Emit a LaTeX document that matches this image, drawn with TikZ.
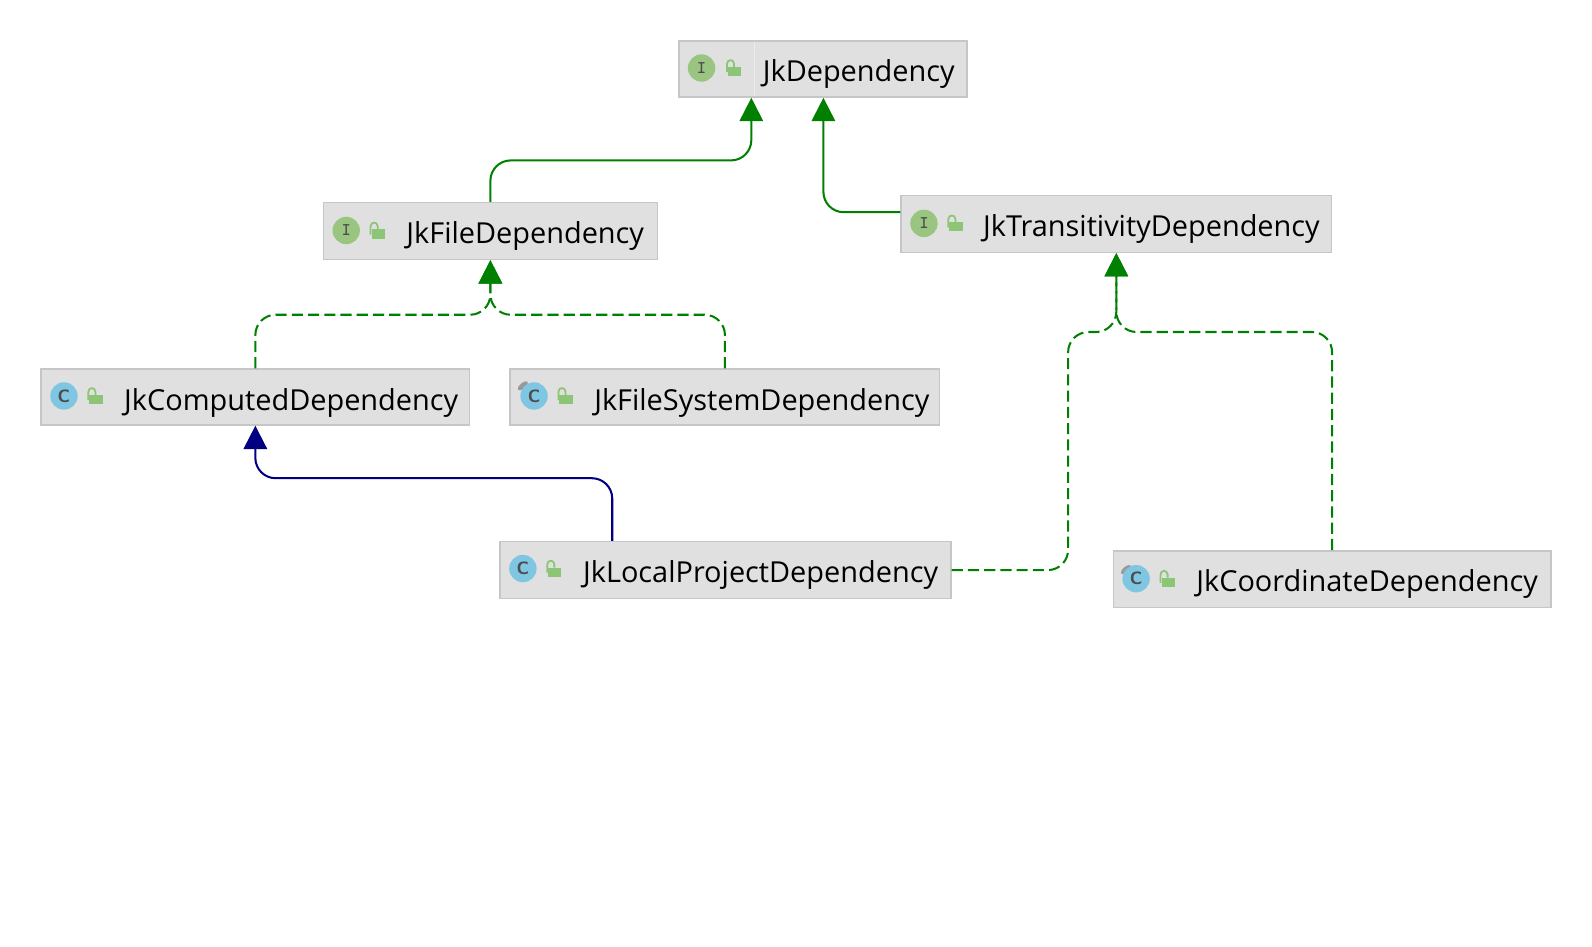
\documentclass[tikz,border=0pt]{standalone}
\usepackage{fontspec}
\setmainfont{Open Sans}
\usetikzlibrary{arrows.meta,fit,shapes.geometric}
\definecolor{boxfill}{HTML}{E0E0E0}
\definecolor{boxline}{HTML}{C6C6C6}
\definecolor{ifacegreen}{HTML}{9AC580}
\definecolor{classblue}{HTML}{7FC6E2}
\definecolor{lockgreen}{HTML}{8DC577}
\definecolor{extgreen}{HTML}{008000}
\definecolor{extblue}{HTML}{000080}
\tikzset{
  depbox/.style={draw=boxline,fill=boxfill,line width=0.03cm,inner sep=0pt},
  deplabel/.style={anchor=base west,inner sep=0pt,font=\fontsize{16.2}{20}\selectfont},
  ifaceicon/.style={circle,fill=ifacegreen,minimum size=0.54cm,inner sep=0pt,text=black!70,font=\ttfamily\bfseries\normalsize},
  classicon/.style={circle,fill=classblue,minimum size=0.54cm,inner sep=0pt,text=black!70,font=\sffamily\bfseries\normalsize},
  abstractmark/.style={ellipse,fill=black!40,minimum width=0.25cm,minimum height=0.11cm,inner sep=0pt,rotate=40},
  lockicon/.pic={
    \fill[lockgreen] (-6,-2) rectangle (7,7);
    \draw[lockgreen,line width=0.035cm] (-7,3) -- (-7,-5) .. controls (-7,-10) and (0,-10) .. (0,-5) -- (0,-2);
  },
  extline/.style={extgreen,line width=0.04cm,rounded corners=0.4cm,-{Triangle[width=0.46cm,length=0.46cm]}},
  implline/.style={extline,dash pattern=on 0.22cm off 0.1cm},
  classline/.style={extline,extblue}
}
\begin{document}
\begin{tikzpicture}[x=0.02cm,y=-0.02cm]
  \useasboundingbox (0,0) rectangle (1568,932);
  % boxes
  \node[depbox,fit={(668.5,40.5)(952.5,95.5)}] (dep) {};
  \node[depbox,fit={(318.5,199.5)(647.5,255.5)}] (file) {};
  \node[depbox,fit={(887.5,192.5)(1311.5,248.5)}] (trans) {};
  \node[depbox,fit={(40.5,363.5)(462.5,418.5)}] (computed) {};
  \node[depbox,fit={(502.5,363.5)(925.5,418.5)}] (system) {};
  \node[depbox,fit={(492.5,533.5)(936.5,589.5)}] (local) {};
  \node[depbox,fit={(1096.5,542.5)(1527.5,598.5)}] (coord) {};
  \draw[white!40!boxfill,line width=0.02cm] (743,41) -- (743,95);
  % labels
  \node[deplabel] (depl) at (751,80) {JkDependency};
  \node[deplabel] (filel) at (400,240) {JkFileDependency};
  \node[deplabel] (transl) at (968,233) {JkTransitivityDependency};
  \node[deplabel] (computedl) at (122,404) {JkComputedDependency};
  \node[deplabel] (systeml) at (585,404) {JkFileSystemDependency};
  \node[deplabel] (locall) at (574,574) {JkLocalProjectDependency};
  \node[deplabel] (coordl) at (1178,583) {JkCoordinateDependency};
  % icons
  \node[abstractmark] (systemm) at (515,380) {};
  \node[abstractmark] (coordm) at (1109,561) {};
  \node[ifaceicon] (depi) at (691,67) {I};
  \node[ifaceicon] (filei) at (341,227) {I};
  \node[ifaceicon] (transi) at (910,220) {I};
  \node[classicon] (computedi) at (63,390) {C};
  \node[classicon] (systemi) at (526,390) {C};
  \node[classicon] (locali) at (515,560) {C};
  \node[classicon] (coordi) at (1119,570) {C};
  \pic at (723,68) {lockicon};
  \pic at (372,228) {lockicon};
  \pic at (941,221) {lockicon};
  \pic at (94,391) {lockicon};
  \pic at (557,391) {lockicon};
  \pic at (546,561) {lockicon};
  \pic at (1150,571) {lockicon};
  % connectors
  \coordinate (a) at (740,158);
  \coordinate (b) at (811,209);
  \coordinate (c) at (483,310);
  \coordinate (d) at (1052,327);
  \coordinate (e) at (603,471);
  \draw[extline] (file.north) |- (a) -- (a |- dep.south);
  \draw[extline] (trans.west |- b) -- (b) -- (b |- dep.south);
  \draw[implline] (computed.north) |- (c) -- (file.south);
  \draw[implline] (system.north) |- (c) -- (file.south);
  \draw[implline] (local.east) -| (d) -- (d -| trans.south) -- (trans.south);
  \draw[implline] (coord.north) |- (d -| trans.south) -- (trans.south);
  \draw[classline] (local.north -| e) -- (e) -- (e -| computed.south) -- (computed.south);
\end{tikzpicture}
\end{document}
